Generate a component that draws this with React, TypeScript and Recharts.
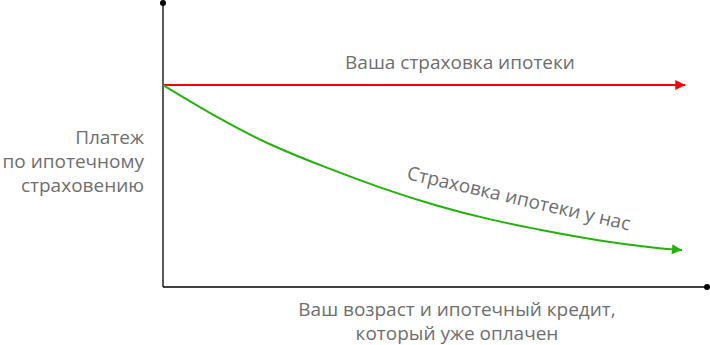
import React from "react";
import { ComposedChart, Line, XAxis, YAxis, ReferenceDot, ReferenceLine } from "recharts";

// positions along the horizontal axis (0..100) and payment level (0..100)
const OUR_X = [0, 10, 20, 30, 40, 50, 60, 70, 80, 90, 95.4];
const OUR_Y = [71.1, 59.8, 50.0, 42.1, 35.0, 28.9, 23.9, 19.9, 16.5, 13.9, 13.0];
const YOUR_X = [0, 96];
const YOUR_Y = [71.1, 71.1];

const ourData = OUR_X.map((x, i) => ({ x, y: OUR_Y[i] }));
const yourData = YOUR_X.map((x, i) => ({ x, y: YOUR_Y[i] }));

const TEXT = "#6e6e6e";
const RED = "#ff0000";
const GREEN = "#22b20a";

// arrow head drawn on the last point, pointing along the last segment
function arrowDot(color: string, lastIndex: number, fallbackAngle: number) {
  // eslint-disable-next-line @typescript-eslint/no-explicit-any
  return (props: any) => {
    const { cx, cy, index, points } = props;
    if (index !== lastIndex || cx == null) return <g key={`d-${index}`} />;
    let angle = fallbackAngle;
    if (points && points[index - 1]) {
      const p = points[index - 1];
      angle = (Math.atan2(cy - p.y, cx - p.x) * 180) / Math.PI;
    }
    return (
      <path
        key={`d-${index}`}
        d="M0 0 L-10 -5 L-10 5 Z"
        fill={color}
        stroke="none"
        transform={`translate(${cx},${cy}) rotate(${angle})`}
      />
    );
  };
}

const labelStyle: React.CSSProperties = {
  position: "absolute",
  fontFamily: "'Open Sans', sans-serif",
  fontSize: 19,
  color: TEXT,
  whiteSpace: "nowrap",
  lineHeight: "24px",
};

export default function App() {
  return (
    <div style={{ position: "absolute", left: 0, top: 0, width: 710, height: 345, background: "#fff", overflow: "hidden" }}>
      <ComposedChart
        width={710}
        height={345}
        margin={{ top: 3, right: 3, left: 163, bottom: 58 }}
      >
        <XAxis type="number" dataKey="x" domain={[0, 100]} hide allowDataOverflow />
        <YAxis type="number" dataKey="y" domain={[0, 100]} hide allowDataOverflow />
        <ReferenceLine x={0} stroke="#000" strokeWidth={1.3} />
        <ReferenceLine y={0} stroke="#000" strokeWidth={1.3} />
        <ReferenceDot x={100} y={0} r={3} fill="#000" stroke="none" ifOverflow="visible" />
        <ReferenceDot x={0} y={100} r={3} fill="#000" stroke="none" ifOverflow="visible" />
        <Line
          data={yourData}
          dataKey="y"
          type="linear"
          stroke={RED}
          strokeWidth={2}
          dot={arrowDot(RED, YOUR_X.length - 1, 0)}
          activeDot={false}
          isAnimationActive={false}
        />
        <Line
          data={ourData}
          dataKey="y"
          type="natural"
          stroke={GREEN}
          strokeWidth={2}
          dot={arrowDot(GREEN, OUR_X.length - 1, 5)}
          activeDot={false}
          isAnimationActive={false}
        />
      </ComposedChart>

      <div style={{ ...labelStyle, right: 710 - 144, top: 125, textAlign: "right" }}>
        Платеж
        <br />
        по ипотечному
        <br />
        страховению
      </div>

      <div
        style={{
          ...labelStyle,
          left: 457,
          top: 297,
          transform: "translateX(-50%)",
          textAlign: "center",
        }}
      >
        Ваш возраст и ипотечный кредит,
        <br />
        который уже оплачен
      </div>

      <div style={{ ...labelStyle, left: 460, top: 50, transform: "translateX(-50%)" }}>
        Ваша страховка ипотеки
      </div>

      <div
        style={{
          ...labelStyle,
          left: 519,
          top: 198,
          transform: "translate(-50%, -50%) rotate(13deg)",
        }}
      >
        Страховка ипотеки у нас
      </div>
    </div>
  );
}
